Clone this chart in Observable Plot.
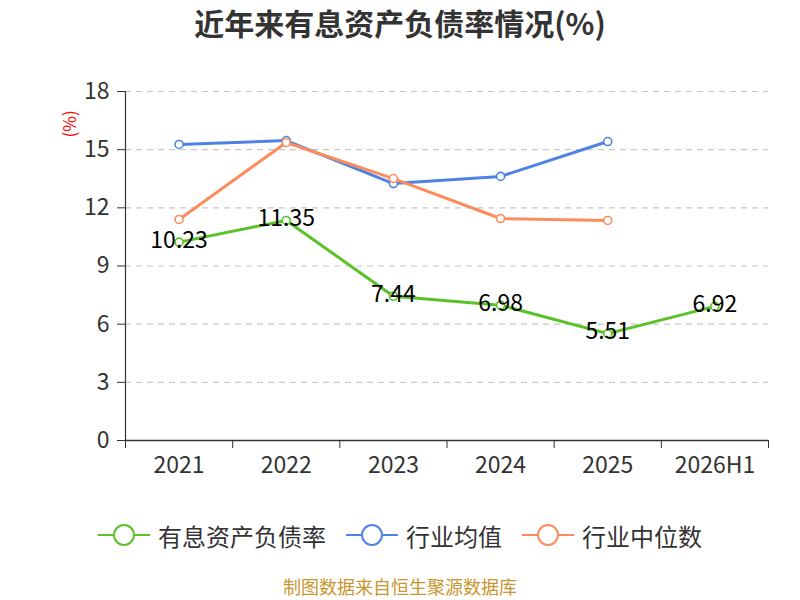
<!DOCTYPE html>
<html><head><meta charset="utf-8">
<script src="https://cdn.jsdelivr.net/npm/d3@7"></script>
<script src="https://cdn.jsdelivr.net/npm/@observablehq/plot@0.6"></script>
<style>
body{margin:0;background:#fff;font-family:"Noto Sans CJK SC","Noto Sans",sans-serif;width:800px}
#title{height:50px;line-height:44px;text-align:center;font-size:30px;font-weight:bold;color:#333}
#legend{height:70px;display:flex;justify-content:center;align-items:center;gap:20px;font-size:24px;color:#333}
.item{display:flex;align-items:center;gap:8px}
#caption{text-align:center;font-size:18px;color:#c8962e;line-height:24px;margin-top:4px}
</style></head><body>
<div id="title">近年来有息资产负债率情况(%)</div>
<div id="chart"></div>
<div id="legend"></div>
<div id="caption">制图数据来自恒生聚源数据库</div>
<script>
const categories = ["2021","2022","2023","2024","2025","2026H1"];
const debtRatio = [10.23, 11.35, 7.44, 6.98, 5.51, 6.92];
const industryMean = [15.27, 15.47, 13.25, 13.62, 15.42];
const industryMedian = [11.40, 15.37, 13.51, 11.45, 11.35];
const yTicks = [0,3,6,9,12,15,18];
const seriesNames = ["有息资产负债率","行业均值","行业中位数"];
const colors = ["#5ac229","#4f83e3","#fb8c5c"];

const toRows = (vals, s) => vals.map((v,i)=>({i: i+0.5, v, s}));
const green = toRows(debtRatio, seriesNames[0]);
const blue = toRows(industryMean, seriesNames[1]);
const orange = toRows(industryMedian, seriesNames[2]);
const font = '"Noto Sans CJK SC","Noto Sans",sans-serif';

const chart = Plot.plot({
  width: 800, height: 450,
  marginTop: 41, marginBottom: 60, marginLeft: 125, marginRight: 32,
  style: {fontFamily: font, background: "#fff"},
  x: {domain: [0, categories.length], axis: null, label: null},
  y: {domain: [0, 18], axis: null, label: null},
  marks: [
    Plot.ruleY(yTicks.filter(d=>d>0), {stroke: "#c8c8c8", strokeWidth: 1.2, strokeDasharray: "6,5"}),
    Plot.ruleX([0], {stroke: "#333", strokeWidth: 1.2}),
    Plot.ruleY([0], {stroke: "#333", strokeWidth: 1.5}),
    Plot.axisY({ticks: yTicks, label: null, tickSize: 8, tickPadding: 8, fontSize: 23, color: "#333", stroke: "#333"}),
    Plot.axisX({ticks: d3.range(0, categories.length+1), label: null, tickSize: 8, tickFormat: () => "", stroke: "#333"}),
    Plot.axisX({ticks: categories.map((c,i)=>i+0.5), label: null, tickSize: 0, tickPadding: 16, fontSize: 23, color: "#333", tickFormat: d => categories[Math.round(d-0.5)]}),
    Plot.text(["(%)"], {frameAnchor: "top-left", dx: -62, dy: 46, rotate: -90, fill: "red", fontSize: 17}),
    Plot.line(blue, {x: "i", y: "v", stroke: colors[1], strokeWidth: 3}),
    Plot.dot(blue, {x: "i", y: "v", r: 4, fill: "#fff", stroke: colors[1], strokeWidth: 1.6}),
    Plot.line(orange, {x: "i", y: "v", stroke: colors[2], strokeWidth: 3}),
    Plot.dot(orange, {x: "i", y: "v", r: 4, fill: "#fff", stroke: colors[2], strokeWidth: 1.6}),
    Plot.line(green, {x: "i", y: "v", stroke: colors[0], strokeWidth: 3}),
    Plot.dot(green, {x: "i", y: "v", r: 4, fill: "#fff", stroke: colors[0], strokeWidth: 1.6}),
    Plot.text(green, {x: "i", y: "v", text: d => d.v.toFixed(2), fill: "#000", fontSize: 23, dy: -2})
  ]
});
document.getElementById("chart").appendChild(chart);

const legend = document.getElementById("legend");
seriesNames.forEach((n,k)=>{
  const it = document.createElement("div"); it.className="item";
  it.innerHTML = `<svg width="52" height="24"><line x1="0" y1="12" x2="52" y2="12" stroke="${colors[k]}" stroke-width="2"/><circle cx="26" cy="12" r="10" fill="#fff" stroke="${colors[k]}" stroke-width="2"/></svg><span>${n}</span>`;
  legend.appendChild(it);
});
</script>
</body></html>
